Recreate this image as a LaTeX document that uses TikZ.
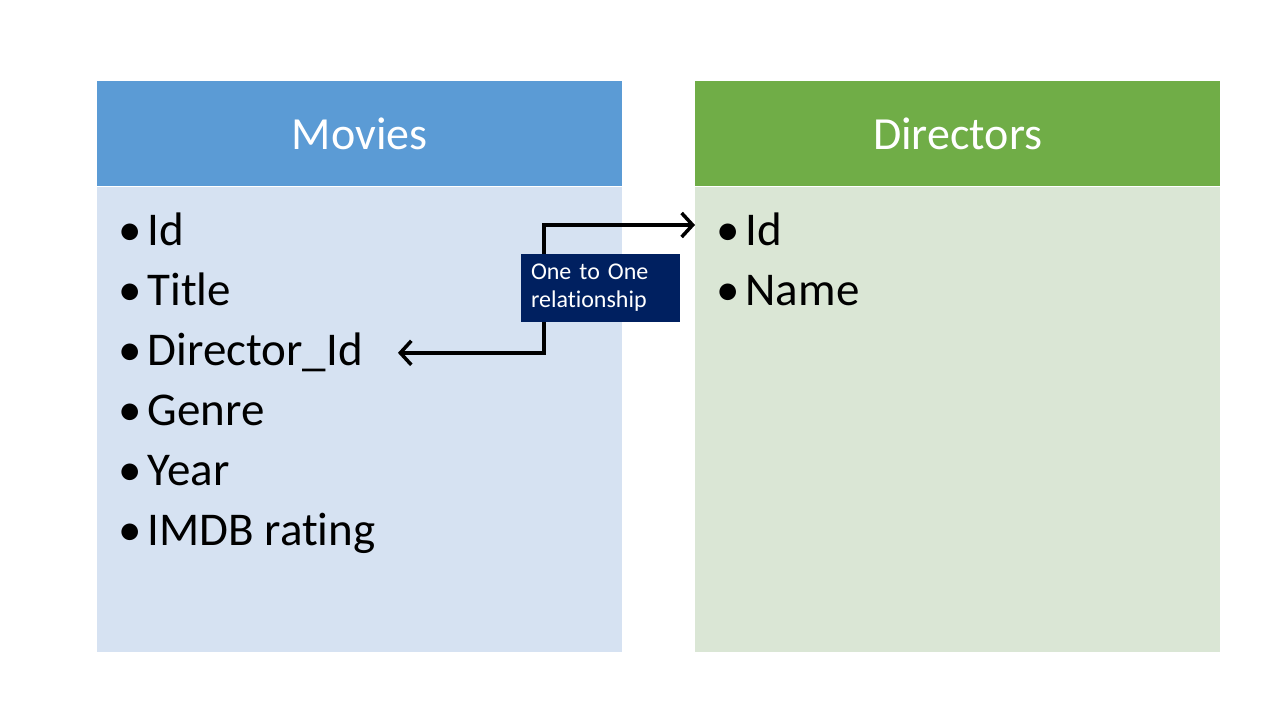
\documentclass[tikz,border=0pt]{standalone}
\usepackage{fontspec}
\setmainfont{Carlito}[RawFeature=-liga]
\usetikzlibrary{arrows.meta,positioning}
\definecolor{movhead}{HTML}{5B9BD5}
\definecolor{movbody}{HTML}{D6E2F2}
\definecolor{dirhead}{HTML}{70AD47}
\definecolor{dirbody}{HTML}{DAE6D5}
\definecolor{relbox}{HTML}{002060}
\tikzset{
	head/.style={minimum width=525pt, minimum height=105pt, inner sep=0pt, text=white, font=\fontsize{46}{50}\selectfont},
	body/.style={minimum width=525pt, minimum height=465pt, inner sep=0pt},
	item/.style={anchor=base west, inner sep=0pt, font=\fontsize{47}{50}\selectfont},
	link/.style={line width=3.5pt, {Straight Barb[length=11pt,width=24pt]}-{Straight Barb[length=11pt,width=24pt]}},
}
\newcommand{\bul}[1]{\textbullet\hspace{6pt}#1}

\begin{document}
\begin{tikzpicture}[x=1pt, y=-1pt]
		%%%%% START %%%%%
		\useasboundingbox[fill=white] (0, 0) rectangle (1280, 720);
		
		\node[head, fill=movhead, anchor=north west] (mhead) at (97, 81) {Movies};
		\node[body, fill=movbody, anchor=north] (mbody) at (mhead.south) {};
		
		\node[head, fill=dirhead, anchor=north west] (dhead) at (695, 81) {Directors};
		\node[body, fill=dirbody, anchor=north] (dbody) at (dhead.south) {};
		
		\node[item] (mid) at (118, 245) {\bul{Id}};
		\node[item] (mtitle) at (118, 305) {\bul{Title}};
		\node[item] (mdir) at (118, 365) {\bul{Director\_Id}};
		\node[item] (mgenre) at (118, 425) {\bul{Genre}};
		\node[item] (myear) at (118, 485) {\bul{Year}};
		\node[item] (mimdb) at (118, 545) {\bul{IMDB rating}};
		
		\node[item] (did) at (716, 245) {\bul{Id}};
		\node[item] (dname) at (716, 305) {\bul{Name}};
		
		\coordinate (bend) at (544, 225);
		\draw[link] ([xshift=35pt, yshift=-1pt]mdir.east) -| (bend) -- (dbody.west |- bend);
		
		\node[fill=relbox, text=white, align=left, text width=139pt, inner sep=10pt, minimum height=68pt, font=\fontsize{24}{28}\selectfont] (rel) at (600.5, 288) {One to One\\relationship};
		
		%%%%% END %%%%%
\end{tikzpicture}
\end{document}
